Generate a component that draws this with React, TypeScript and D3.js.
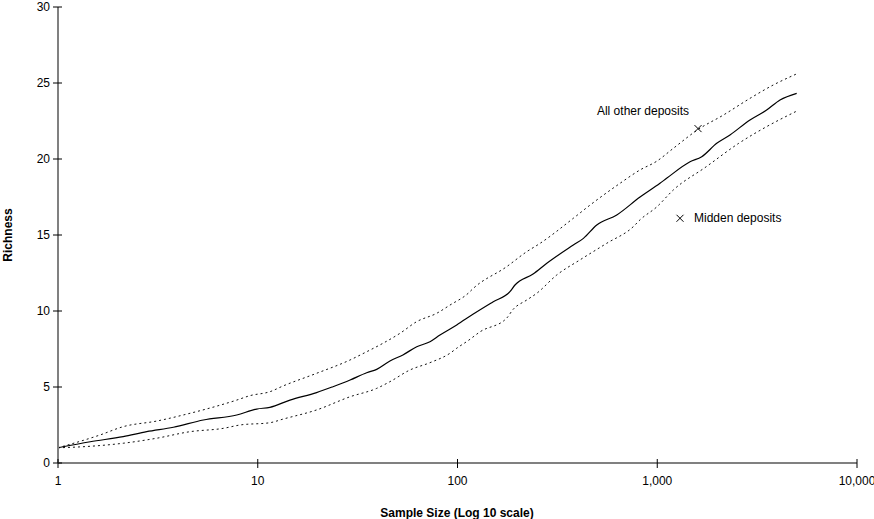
import React from "react";
import * as d3 from "d3";

const meanN = [1, 1.45, 2.12, 2.78, 3.78, 5.34, 7.85, 9.88, 11.5, 14.5, 19.7, 23.8, 29.0, 35.1, 39.4, 45.9, 53.3, 62.5, 72.8, 81.7, 99.1, 120, 151, 183, 194, 239, 280, 380, 427, 498, 627, 820, 1032, 1114, 1459, 1670, 1985, 2313, 2912, 3529, 4117, 4990];
const meanV = [1.0, 1.4, 1.73, 2.06, 2.35, 2.83, 3.16, 3.55, 3.66, 4.14, 4.63, 5.02, 5.46, 5.94, 6.16, 6.71, 7.11, 7.65, 7.98, 8.42, 9.08, 9.8, 10.61, 11.27, 11.71, 12.43, 13.14, 14.34, 14.78, 15.66, 16.32, 17.5, 18.4, 18.73, 19.82, 20.15, 21.03, 21.58, 22.57, 23.22, 23.88, 24.32];

const upperN = [1, 1.62, 2.12, 3.12, 4.58, 7.85, 9.14, 11.5, 13.4, 19.7, 29.0, 35.1, 42.4, 51.5, 62.5, 78.7, 91.7, 113, 120, 176, 222, 259, 380, 461, 651, 820, 993, 1203, 1605, 2142, 2912, 3810, 4990];
const upperV = [1.0, 1.84, 2.39, 2.76, 3.27, 4.14, 4.43, 4.69, 5.07, 5.9, 6.78, 7.32, 7.88, 8.53, 9.3, 9.85, 10.39, 11.16, 11.49, 12.91, 13.9, 14.45, 16.1, 16.97, 18.4, 19.28, 19.85, 20.7, 21.95, 22.89, 23.99, 24.87, 25.6];

const lowerN = [1, 1.45, 2.12, 3.12, 4.58, 6.72, 8.15, 11.5, 13.4, 19.7, 29.0, 39.4, 45.9, 57.8, 72.8, 91.7, 99.1, 113, 130, 176, 190, 222, 249, 314, 410, 558, 759, 820, 993, 1203, 1758, 2556, 3529, 4990];
const lowerV = [1.0, 1.1, 1.3, 1.63, 2.06, 2.28, 2.5, 2.65, 2.89, 3.49, 4.36, 4.91, 5.35, 6.12, 6.6, 7.22, 7.55, 8.05, 8.64, 9.52, 10.11, 10.72, 11.16, 12.37, 13.36, 14.45, 15.55, 16.0, 16.84, 17.96, 19.49, 21.03, 22.13, 23.15];

const pointLabels = ["All other deposits", "Midden deposits"];
const pointN = [1600, 1300];
const pointV = [22.0, 16.1];

const xTicks = [1, 10, 100, 1000, 10000];
const yTicks = [0, 5, 10, 15, 20, 25, 30];

const W = 874;
const H = 519;

export default function App() {
  const x = d3.scaleLog().domain([1, 10000]).range([58, 857]);
  const y = d3.scaleLinear().domain([0, 30]).range([463, 7]);
  const line = d3
    .line<[number, number]>()
    .x((d) => x(d[0]))
    .y((d) => y(d[1]))
    .curve(d3.curveMonotoneX);
  const zip = (a: number[], b: number[]) => a.map((v, i) => [v, b[i]] as [number, number]);
  const fmt = d3.format(",");
  const font = "'Liberation Sans', Arial, sans-serif";

  return (
    <svg
      width={W}
      height={H}
      style={{ position: "absolute", left: 0, top: 0, background: "#fff" }}
      fontFamily={font}
    >
      <rect x={0} y={0} width={W} height={H} fill="#fff" />
      {/* series */}
      <path d={line(zip(upperN, upperV)) || ""} fill="none" stroke="#111" strokeWidth={1} strokeDasharray="2,3" />
      <path d={line(zip(lowerN, lowerV)) || ""} fill="none" stroke="#111" strokeWidth={1} strokeDasharray="2,3" />
      <path d={line(zip(meanN, meanV)) || ""} fill="none" stroke="#000" strokeWidth={1.2} />

      {/* axes */}
      <line x1={x(1)} x2={x(1)} y1={y(30)} y2={y(0)} stroke="#808080" strokeWidth={2} />
      <line x1={x(1)} x2={x(10000)} y1={y(0)} y2={y(0)} stroke="#808080" strokeWidth={2} />
      {yTicks.map((t) => (
        <g key={"y" + t}>
          <line x1={x(1) - 5} x2={x(1) + 4} y1={y(t)} y2={y(t)} stroke="#000" strokeWidth={1} />
          <text x={x(1) - 8} y={y(t) + 4} textAnchor="end" fontSize={12} fill="#000">
            {t}
          </text>
        </g>
      ))}
      {xTicks.map((t) => (
        <g key={"x" + t}>
          <line x1={x(t)} x2={x(t)} y1={y(0) - 4} y2={y(0) + 5} stroke="#000" strokeWidth={1} />
          <text x={x(t)} y={y(0) + 22} textAnchor="middle" fontSize={12} fill="#000">
            {fmt(t)}
          </text>
        </g>
      ))}

      {/* axis titles */}
      <text
        transform={`translate(12,${(y(30) + y(0)) / 2}) rotate(-90)`}
        textAnchor="middle"
        fontSize={12}
        fontWeight="bold"
        fill="#000"
      >
        Richness
      </text>
      <text x={457} y={517} textAnchor="middle" fontSize={12} fontWeight="bold" fill="#000">
        Sample Size (Log 10 scale)
      </text>

      {/* points */}
      {pointLabels.map((lab, i) => {
        const px = x(pointN[i]);
        const py = y(pointV[i]);
        return (
          <g key={lab}>
            <path
              d={`M${px - 3.5},${py - 3.5}L${px + 3.5},${py + 3.5}M${px - 3.5},${py + 3.5}L${px + 3.5},${py - 3.5}`}
              stroke="#000"
              strokeWidth={1}
            />
            {i === 0 ? (
              <text x={px - 9} y={py - 14} textAnchor="end" fontSize={12} fill="#000">
                {lab}
              </text>
            ) : (
              <text x={px + 14} y={py + 4} textAnchor="start" fontSize={12} fill="#000">
                {lab}
              </text>
            )}
          </g>
        );
      })}
    </svg>
  );
}
